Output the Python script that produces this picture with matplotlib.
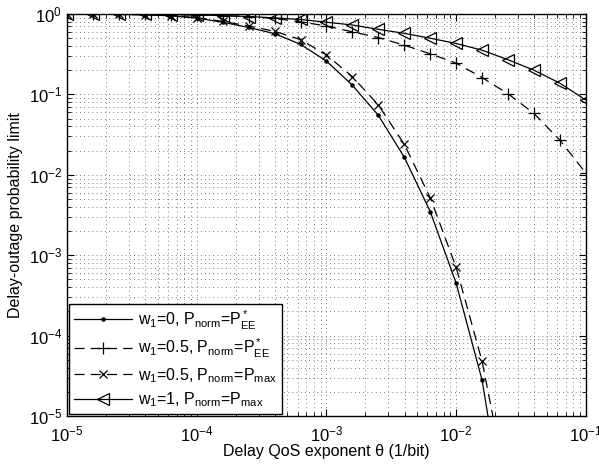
import matplotlib.pyplot as plt
import numpy as np

plt.rcParams['font.family'] = ['Liberation Sans', 'DejaVu Sans']
plt.rcParams['mathtext.fontset'] = 'custom'
plt.rcParams['mathtext.rm'] = 'Liberation Sans'
plt.rcParams['mathtext.it'] = 'Liberation Sans'
plt.rcParams['mathtext.default'] = 'regular'

# Delay QoS exponent grid (1/bit), five points per decade
theta = [1e-5, 1.585e-5, 2.512e-5, 3.981e-5, 6.31e-5,
         1e-4, 1.585e-4, 2.512e-4, 3.981e-4, 6.31e-4,
         1e-3, 1.585e-3, 2.512e-3, 3.981e-3, 6.31e-3,
         1e-2, 1.585e-2, 2.512e-2, 3.981e-2, 6.31e-2, 1e-1]

# Delay-outage probability limit for each configuration
p_w0_ee = [1.0, 0.995, 0.989, 0.977, 0.95, 0.89, 0.79, 0.68, 0.57, 0.42,
           0.26, 0.13, 0.055, 0.0166, 3.5e-3, 4.5e-4, 2.8e-5, 3e-7]
p_w05_ee = [1.0, 0.998, 0.995, 0.991, 0.984, 0.973, 0.955, 0.93, 0.88, 0.80,
            0.71, 0.60, 0.51, 0.41, 0.32, 0.245, 0.162, 0.102, 0.058, 0.027, 0.0105]
p_w05_max = [1.0, 0.995, 0.991, 0.98, 0.955, 0.90, 0.81, 0.71, 0.61, 0.48,
             0.31, 0.166, 0.074, 0.024, 5.2e-3, 7.1e-4, 4.8e-5, 1.1e-6]
p_w1_max = [1.0, 1.0, 0.998, 0.993, 0.986, 0.973, 0.955, 0.93, 0.895, 0.855,
            0.79, 0.73, 0.645, 0.575, 0.50, 0.43, 0.355, 0.27, 0.20, 0.138, 0.085]

labels = [r'w$_1$=0, P$_{norm}$=P$^*_{EE}$',
          r'w$_1$=0.5, P$_{norm}$=P$^*_{EE}$',
          r'w$_1$=0.5, P$_{norm}$=P$_{max}$',
          r'w$_1$=1, P$_{norm}$=P$_{max}$']

fig = plt.figure(figsize=(5.99, 4.67), dpi=100)
ax = fig.add_axes([0.112, 0.109, 0.866, 0.861])

lw = 0.9
dash = (0, (8, 5))
ax.plot(theta[:len(p_w0_ee)], p_w0_ee, '-', color='k', lw=lw,
        marker='.', markersize=4.5, label=labels[0])
ax.plot(theta[:len(p_w05_ee)], p_w05_ee, color='k', lw=lw, ls=dash,
        marker='+', markersize=8, markeredgewidth=0.9, label=labels[1])
ax.plot(theta[:len(p_w05_max)], p_w05_max, color='k', lw=lw, ls=dash,
        marker='x', markersize=6, markeredgewidth=0.9, label=labels[2])
ax.plot(theta[:len(p_w1_max)], p_w1_max, '-', color='k', lw=lw,
        marker='<', markersize=9, markerfacecolor='none', markeredgewidth=0.9,
        label=labels[3])

ax.set_xscale('log')
ax.set_yscale('log')
ax.set_xlim(1e-5, 1e-1)
ax.set_ylim(1e-5, 1)

ax.grid(True, which='both', color='#555555', linestyle=(0, (1, 4)), linewidth=0.6)
ax.tick_params(which='both', direction='in', top=True, right=True, labelsize=12)
ax.tick_params(which='major', length=5, width=0.8)
ax.tick_params(which='minor', length=3, width=0.6)
ax.tick_params(axis='x', which='major', pad=6)
for s in ax.spines.values():
    s.set_linewidth(1.0)

ax.set_xlabel('Delay QoS exponent θ (1/bit)', fontsize=11.5, labelpad=0)
ax.set_ylabel('Delay-outage probability limit', fontsize=11.5, labelpad=4)

leg = ax.legend(loc='lower left', fontsize=11.5, handlelength=3.6, fancybox=False,
                framealpha=1, edgecolor='k', borderaxespad=0.15,
                labelspacing=0.35, handletextpad=0.4, borderpad=0.3)
leg.get_frame().set_linewidth(1.0)

fig.savefig('out.png', dpi=100)
